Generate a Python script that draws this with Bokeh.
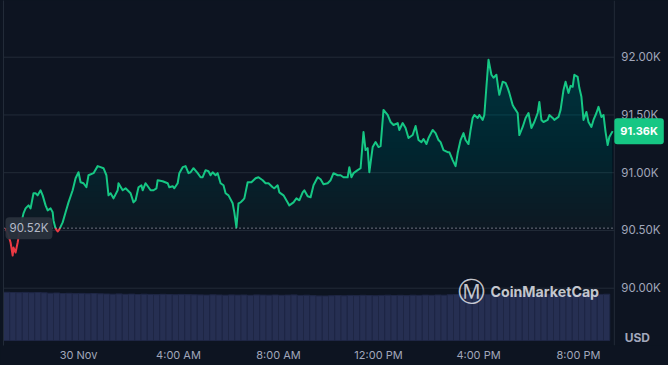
import numpy as np
from bokeh.plotting import figure
from bokeh.models import (Range1d, FixedTicker, Span, Label, LinearAxis,
                          GlobalInlineStyleSheet)
from bokeh.core.properties import value
from bokeh.embed import file_html
from bokeh.resources import INLINE

# ---- data: minutes relative to 30 Nov 00:00, BTC price in USD ----
minutes = [-175, -168, -163, -158, -156, -151, -146, -142, -137, -132, -127, -120, -115, -108, -103, -98,
           -91, -86, -79, -74, -67, -62, -60, -55, -50, -46, -38, -31, -24, -14, -7, 0, 5, 12, 19, 24,
           36, 46, 53, 60, 67, 72, 77, 84, 94, 96, 106, 113, 125, 132, 137, 144, 151, 154, 161, 168,
           173, 180, 187, 190, 202, 214, 218, 226, 230, 238, 242, 250, 257, 264, 269, 276, 286, 293,
           298, 305, 312, 317, 322, 329, 334, 341, 348, 353, 360, 370, 374, 379, 384, 389, 394, 398,
           406, 415, 425, 432, 442, 449, 456, 466, 470, 478, 482, 492, 502, 506, 516, 523, 530, 538,
           542, 550, 557, 564, 574, 581, 588, 598, 605, 612, 622, 629, 636, 646, 650, 655, 660, 670,
           677, 684, 689, 694, 698, 706, 713, 720, 725, 732, 742, 749, 756, 766, 770, 778, 785, 792,
           802, 809, 816, 823, 828, 835, 840, 850, 857, 864, 869, 876, 886, 890, 898, 905, 910, 917,
           924, 929, 936, 941, 946, 950, 958, 962, 970, 974, 979, 984, 991, 996, 1003, 1008, 1010,
           1018, 1025, 1030, 1034, 1042, 1046, 1054, 1058, 1066, 1073, 1080, 1087, 1094, 1102, 1106,
           1111, 1116, 1126, 1130, 1138, 1142, 1152, 1157, 1164, 1169, 1176, 1181, 1186, 1190, 1198,
           1202, 1207, 1212, 1219, 1224, 1231, 1236, 1243, 1248, 1255, 1260, 1265, 1270, 1274, 1282]
price = [90520, 90457, 90396, 90283, 90352, 90309, 90396, 90483, 90570, 90648, 90691, 90717, 90691, 90822,
         90822, 90804, 90848, 90804, 90717, 90674, 90691, 90657, 90587, 90517, 90491, 90509, 90570, 90657,
         90743, 90848, 90952, 91004, 90917, 90909, 90874, 90978, 90996, 91057, 91048, 91039, 90978, 90804,
         90822, 90778, 90848, 90909, 90848, 90865, 90822, 90743, 90761, 90874, 90891, 90848, 90909, 90874,
         90848, 90848, 90865, 90935, 90926, 90909, 90874, 90883, 90865, 90909, 90996, 91048, 91057, 90996,
         91004, 91039, 90996, 90961, 90961, 91022, 91013, 90978, 91004, 90978, 90996, 90909, 90891, 90822,
         90804, 90735, 90657, 90526, 90735, 90743, 90761, 90778, 90917, 90917, 90952, 90961, 90935, 90909,
         90909, 90874, 90865, 90891, 90830, 90804, 90743, 90717, 90743, 90778, 90761, 90830, 90848, 90796,
         90787, 90891, 90961, 90943, 90900, 90909, 90935, 90996, 90978, 90978, 90961, 90961, 91048, 90961,
         90996, 91022, 91039, 91352, 91196, 91213, 91004, 91222, 91265, 91222, 91230, 91544, 91500, 91439,
         91413, 91430, 91370, 91430, 91387, 91300, 91326, 91404, 91283, 91265, 91291, 91248, 91300, 91370,
         91343, 91283, 91265, 91196, 91178, 91178, 91109, 91057, 91170, 91283, 91343, 91283, 91248, 91370,
         91474, 91500, 91474, 91500, 91457, 91500, 91744, 91978, 91848, 91822, 91848, 91717, 91674, 91787,
         91778, 91735, 91691, 91587, 91561, 91517, 91326, 91396, 91474, 91517, 91387, 91439, 91517, 91613,
         91457, 91439, 91457, 91500, 91474, 91457, 91483, 91544, 91717, 91787, 91691, 91752, 91744, 91848,
         91830, 91735, 91657, 91457, 91526, 91439, 91396, 91457, 91517, 91570, 91483, 91500, 91352, 91239,
         91309, 91360]

# volume bars (15-minute buckets), first bucket centred at vol_start
vol_start = -172.5
vol_step = 15
volume = [48.2, 48.0, 47.9, 48.1, 47.8, 48.0, 47.7,
          47.3, 47.5, 47.0, 47.2, 46.9, 47.1, 46.8, 47.0, 46.7,
          46.5, 46.3, 46.6, 46.2, 46.4, 46.0, 46.3, 46.1, 45.9, 46.2, 46.0, 45.8, 46.1, 45.9, 45.7,
          45.6, 45.4, 45.7, 45.5, 45.3, 45.6, 45.4, 45.5, 45.2, 45.6, 45.4, 45.3, 45.5, 45.2, 45.4, 45.6,
          45.1, 45.3, 44.9, 44.6, 44.5, 44.8, 45.0, 44.7, 45.1, 44.9, 45.2, 45.0, 44.8, 45.1, 45.3, 45.0,
          45.2, 44.9, 45.3, 45.1, 45.4, 45.2, 45.5, 45.3,
          45.8, 46.0, 45.9, 46.2, 46.0, 46.3, 46.1, 46.4, 46.2, 46.0, 46.3, 46.5, 46.2, 46.4, 46.1, 46.3,
          46.5, 46.2, 46.4, 46.6, 46.3, 46.5, 46.2, 46.4, 46.1, 46.3]

x_tick_values = [0, 240, 480, 720, 960, 1200]
x_tick_labels = ["30 Nov", "4:00 AM", "8:00 AM", "12:00 PM", "4:00 PM", "8:00 PM"]
y_tick_values = [90000, 90500, 91000, 91500, 92000]
y_tick_labels = ["90.00K", "90.50K", "91.00K", "91.50K", "92.00K"]

# ---- style ----
BG = "#0d1421"
GRID = "#222b38"
GREEN = "#16c784"
RED = "#ea3943"
TXT = "#a1a7bb"
FONT = "Inter"

# visible window (minutes) and end of the price pane
X_START, X_END = -180, 1416
PANE_END = 1286
Y_START, Y_END = 89504, 92491

base = price[0]
last = price[-1]


def split_at(t, v, level):
    tt, vv = [t[0]], [v[0]]
    for i in range(1, len(t)):
        a, b = v[i - 1], v[i]
        if (a - level) * (b - level) < 0:
            f = (level - a) / (b - a)
            tt.append(t[i - 1] + f * (t[i] - t[i - 1]))
            vv.append(level)
        tt.append(t[i])
        vv.append(b)
    return np.array(tt, dtype=float), np.array(vv, dtype=float)


t_arr, p_arr = split_at(minutes, price, base)

p = figure(width=668, height=365, output_backend="svg", toolbar_location=None,
           x_range=Range1d(X_START, X_END), y_range=Range1d(Y_START, Y_END),
           y_axis_location=None, min_border_left=3, min_border_top=0,
           min_border_right=0, min_border_bottom=20)
p.background_fill_color = BG
p.border_fill_color = BG
p.outline_line_color = None
p.stylesheets = [GlobalInlineStyleSheet(css="html, body { background: #0d1421; }")]
p.xgrid.visible = False
p.ygrid.visible = False

# volume on its own hidden range
p.extra_y_ranges = {"vol": Range1d(-5, 340)}
vol_t = [vol_start + vol_step * i for i in range(len(volume))]
p.vbar(x=vol_t, top=volume, bottom=0, width=vol_step, y_range_name="vol",
       fill_color="#262f52", line_color="#1e2644", line_width=1)

# horizontal grid of the price pane
p.segment(x0=X_START, x1=PANE_END, y0=y_tick_values, y1=y_tick_values,
          line_color=GRID, line_width=1)
p.add_layout(Span(location=PANE_END, dimension="height", line_color=GRID, line_width=1))

# gradient-like fill between line and base level
top_level = 92000
n = 28
levels = np.linspace(base, top_level, n + 1)
target = 0.03 + (levels[:-1] - base) / (top_level - base) * 0.27
prev = 0.0
for k in range(n):
    a = 1 - (1 - target[k]) / (1 - prev)
    prev = target[k]
    lo = levels[k]
    y2 = np.maximum(p_arr, lo)
    if np.all(y2 <= lo):
        continue
    p.varea(x=t_arr, y1=np.full_like(t_arr, lo), y2=y2, fill_color=GREEN, fill_alpha=a)

green = np.where(p_arr >= base, p_arr, np.nan)
red = np.where(p_arr <= base, p_arr, np.nan)
p.line(t_arr, green, line_color=GREEN, line_width=2, line_join="round")
p.line(t_arr, red, line_color=RED, line_width=2, line_join="round")

# dotted open-price line
p.segment(x0=[X_START], x1=[PANE_END], y0=[base], y1=[base], line_color="#c9cdd8",
          line_dash="1 3", line_width=1)

# price-axis labels
p.text(x=PANE_END, y=y_tick_values, text=y_tick_labels, x_offset=7,
       text_font=value(FONT), text_font_size="11.5px", text_color=TXT,
       text_align="left", text_baseline="middle")

# left frame line
left_axis = LinearAxis(ticker=FixedTicker(ticks=[]), axis_line_color=GRID,
                       major_tick_in=0, major_tick_out=0, minor_tick_in=0, minor_tick_out=0,
                       major_label_standoff=0, axis_label_standoff=0)
p.add_layout(left_axis, "left")

# time axis
p.xaxis.ticker = FixedTicker(ticks=x_tick_values)
p.xaxis.major_label_overrides = dict(zip(x_tick_values, x_tick_labels))
p.xaxis.axis_line_color = None
p.xaxis.major_tick_in = 0
p.xaxis.major_tick_out = 0
p.xaxis.minor_tick_in = 0
p.xaxis.minor_tick_out = 0
p.xaxis.major_tick_line_color = None
p.xaxis.minor_tick_line_color = None
p.xaxis.major_label_standoff = 2
p.xaxis.major_label_text_font = FONT
p.xaxis.major_label_text_font_size = "11px"
p.xaxis.major_label_text_color = TXT

# price tags
p.add_layout(Label(x=2, y=base, x_units="screen", y_units="data",
                   text=f"{base / 1000:.2f}K", text_font=FONT, text_font_size="11.5px",
                   text_font_style="normal", text_color="#b4b9c7", text_align="left",
                   text_baseline="middle", background_fill_color="#2a313d",
                   background_fill_alpha=0.95, padding=4, border_radius=4))
p.add_layout(Label(x=PANE_END, y=last, x_units="data", y_units="data", x_offset=0,
                   text=f"{last / 1000:.2f}K", text_font=FONT, text_font_size="11px",
                   text_font_style="bold", text_color="white", text_align="left",
                   text_baseline="middle", background_fill_color=GREEN,
                   padding=6, border_radius=3))
p.add_layout(Label(x=PANE_END, y=8, x_units="data", y_units="screen", x_offset=23,
                   text="USD", text_font=FONT, text_font_size="12px", text_font_style="bold",
                   text_color=TXT, text_align="center", text_baseline="middle"))

# watermark
p.add_layout(Label(x=468, y=54, x_units="screen", y_units="screen", text="Ⓜ",
                   text_font="DejaVu Sans", text_font_size="27px", text_color="#e4e6eb",
                   text_alpha=0.85, text_align="center", text_baseline="middle"))
p.add_layout(Label(x=487, y=54, x_units="screen", y_units="screen", text="CoinMarketCap",
                   text_font=FONT, text_font_size="14.2px", text_font_style="bold",
                   text_color="#e4e6eb", text_alpha=0.85, text_align="left",
                   text_baseline="middle"))

open("out.html", "w").write(file_html(p, INLINE))
